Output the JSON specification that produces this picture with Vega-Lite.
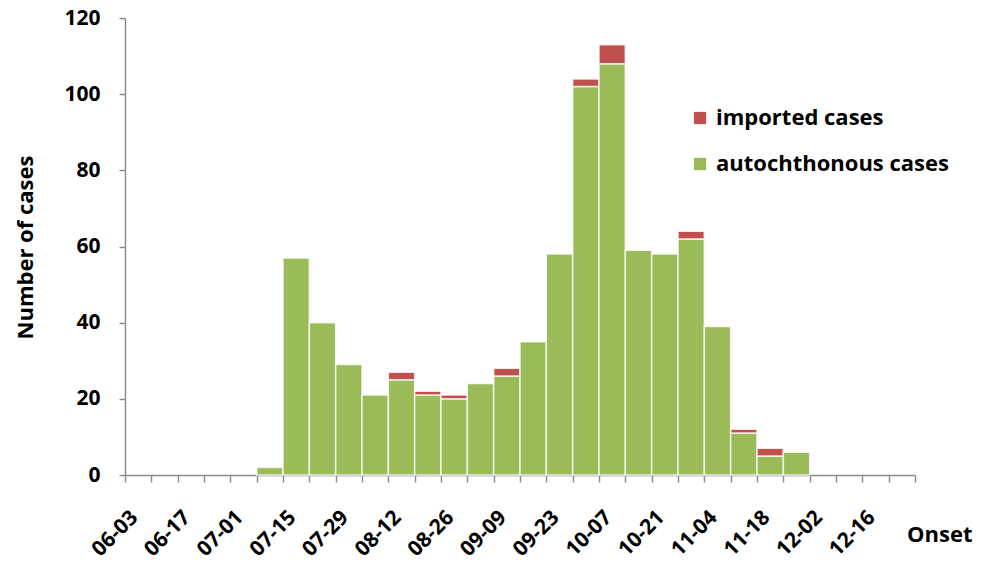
{
  "$schema": "https://vega.github.io/schema/vega-lite/v6.json",
  "width": 790,
  "height": 457,
  "autosize": "none",
  "padding": {"left": 125, "top": 18, "right": 72, "bottom": 90},
  "background": "white",
  "config": {
    "view": {"stroke": null},
    "font": "Open Sans",
    "axis": {"grid": false, "domainColor": "#8c8c8c", "tickColor": "#8c8c8c", "domainWidth": 1.5, "tickWidth": 1.5, "labelColor": "#000", "titleColor": "#000", "labelFont": "Open Sans", "titleFont": "Open Sans"}
  },
  "data": {
    "values": [
      {"week": "07-08", "type": "autochthonous cases", "cases": 2},
      {"week": "07-15", "type": "autochthonous cases", "cases": 57},
      {"week": "07-22", "type": "autochthonous cases", "cases": 40},
      {"week": "07-29", "type": "autochthonous cases", "cases": 29},
      {"week": "08-05", "type": "autochthonous cases", "cases": 21},
      {"week": "08-12", "type": "autochthonous cases", "cases": 25},
      {"week": "08-12", "type": "imported cases", "cases": 2},
      {"week": "08-19", "type": "autochthonous cases", "cases": 21},
      {"week": "08-19", "type": "imported cases", "cases": 1},
      {"week": "08-26", "type": "autochthonous cases", "cases": 20},
      {"week": "08-26", "type": "imported cases", "cases": 1},
      {"week": "09-02", "type": "autochthonous cases", "cases": 24},
      {"week": "09-09", "type": "autochthonous cases", "cases": 26},
      {"week": "09-09", "type": "imported cases", "cases": 2},
      {"week": "09-16", "type": "autochthonous cases", "cases": 35},
      {"week": "09-23", "type": "autochthonous cases", "cases": 58},
      {"week": "09-30", "type": "autochthonous cases", "cases": 102},
      {"week": "09-30", "type": "imported cases", "cases": 2},
      {"week": "10-07", "type": "autochthonous cases", "cases": 108},
      {"week": "10-07", "type": "imported cases", "cases": 5},
      {"week": "10-14", "type": "autochthonous cases", "cases": 59},
      {"week": "10-21", "type": "autochthonous cases", "cases": 58},
      {"week": "10-28", "type": "autochthonous cases", "cases": 62},
      {"week": "10-28", "type": "imported cases", "cases": 2},
      {"week": "11-04", "type": "autochthonous cases", "cases": 39},
      {"week": "11-11", "type": "autochthonous cases", "cases": 11},
      {"week": "11-11", "type": "imported cases", "cases": 1},
      {"week": "11-18", "type": "autochthonous cases", "cases": 5},
      {"week": "11-18", "type": "imported cases", "cases": 2},
      {"week": "11-25", "type": "autochthonous cases", "cases": 6}
    ]
  },
  "mark": {"type": "bar", "stroke": "#ffffff", "strokeWidth": 1.5, "strokeOpacity": 0.8},
  "encoding": {
    "x": {
      "field": "week",
      "type": "ordinal",
      "sort": null,
      "scale": {
        "domain": ["06-03","06-10","06-17","06-24","07-01","07-08","07-15","07-22","07-29","08-05","08-12","08-19","08-26","09-02","09-09","09-16","09-23","09-30","10-07","10-14","10-21","10-28","11-04","11-11","11-18","11-25","12-02","12-09","12-16","12-23"],
        "paddingInner": 0,
        "paddingOuter": 0
      },
      "axis": {
        "title": "Onset",
        "titleFontSize": 22,
        "titleFontWeight": "bold",
        "titleAnchor": "end",
        "titleAlign": "right",
        "titleBaseline": "alphabetic",
        "titleX": 847,
        "titleY": 66,
        "tickBand": "extent",
        "tickSize": 7,
        "labelAngle": -45,
        "labelAlign": "right",
        "labelBaseline": "middle",
        "labelPadding": 32,
        "labelOffset": -4,
        "labelFontSize": 21,
        "labelFontWeight": "bold",
        "labelOverlap": false,
        "labelExpr": "indexof(['06-03','06-17','07-01','07-15','07-29','08-12','08-26','09-09','09-23','10-07','10-21','11-04','11-18','12-02','12-16'], datum.value) >= 0 ? datum.label : ''"
      }
    },
    "y": {
      "field": "cases",
      "type": "quantitative",
      "aggregate": "sum",
      "stack": "zero",
      "scale": {"domain": [0, 120], "nice": false},
      "axis": {
        "title": "Number of cases",
        "values": [0, 20, 40, 60, 80, 100, 120],
        "tickSize": 6,
        "labelPadding": 19,
        "labelFontSize": 21,
        "labelFontWeight": "bold",
        "titleFontSize": 22,
        "titleFontWeight": "bold",
        "titleX": -100,
        "titleY": 229,
        "titleBaseline": "middle",
        "titleAlign": "center"
      }
    },
    "color": {
      "field": "type",
      "type": "nominal",
      "scale": {"domain": ["imported cases", "autochthonous cases"], "range": ["#C0504D", "#9BBB59"]},
      "legend": {
        "title": null,
        "orient": "none",
        "legendX": 564,
        "legendY": 89,
        "symbolType": "square",
        "symbolSize": 150,
        "symbolStrokeWidth": 0,
        "labelFontSize": 22,
        "labelFontWeight": "bold",
        "labelColor": "#000",
        "labelOffset": 5,
        "labelLimit": 0,
        "rowPadding": 24
      }
    },
    "order": {"field": "type", "sort": "ascending"}
  }
}
